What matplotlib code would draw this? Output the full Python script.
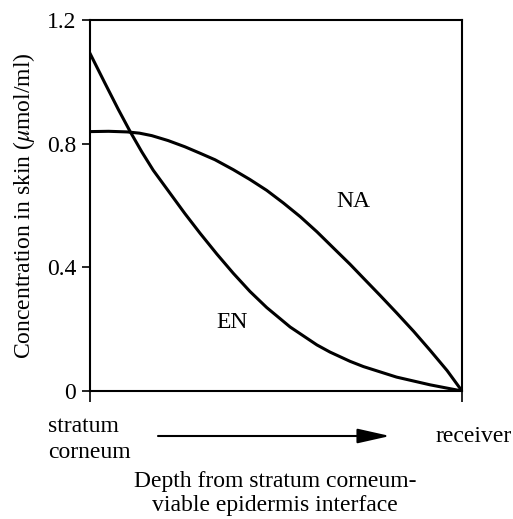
import matplotlib.pyplot as plt
from matplotlib.patches import FancyArrowPatch

plt.rcParams['font.family'] = ['Liberation Serif', 'DejaVu Serif']
plt.rcParams['mathtext.fontset'] = 'stix'

# depth fraction (0 = stratum corneum, 1 = receiver)
en_x = [0, 0.040, 0.076, 0.108, 0.139, 0.170, 0.255, 0.296, 0.341, 0.385, 0.430, 0.475,
        0.538, 0.610, 0.645, 0.699, 0.735, 0.824, 0.914, 1.0]
en_y = [1.092, 0.996, 0.911, 0.839, 0.774, 0.714, 0.574, 0.510, 0.443, 0.381, 0.322, 0.270,
        0.207, 0.149, 0.126, 0.096, 0.079, 0.045, 0.020, 0.0]

na_x = [0, 0.05, 0.10, 0.133, 0.166, 0.210, 0.255, 0.296, 0.336, 0.385, 0.430, 0.475, 0.520,
        0.565, 0.610, 0.654, 0.699, 0.735, 0.780, 0.824, 0.870, 0.914, 0.960, 1.0]
na_y = [0.839, 0.840, 0.838, 0.834, 0.826, 0.810, 0.790, 0.769, 0.748, 0.716, 0.684, 0.649,
        0.608, 0.564, 0.515, 0.463, 0.410, 0.365, 0.309, 0.253, 0.193, 0.132, 0.066, 0.0]

yticks = [0, 0.4, 0.8, 1.2]
ytick_labels = ['0', '0.4', '0.8', '1.2']

fig = plt.figure(figsize=(5.13, 5.19), dpi=100)
ax = fig.add_axes([90/513, 1 - 391/519, 372/513, 371/519])

ax.plot(en_x, en_y, color='black', lw=2.2, solid_joinstyle='round')
ax.plot(na_x, na_y, color='black', lw=2.2, solid_joinstyle='round')

ax.text(0.707, 0.612, 'NA', fontsize=17, ha='center', va='center')
ax.text(0.382, 0.220, 'EN', fontsize=17, ha='center', va='center')

ax.set_xlim(0, 1)
ax.set_ylim(0, 1.2)
ax.set_yticks(yticks)
ax.set_yticklabels(ytick_labels, fontsize=17)
ax.set_xticks([0, 1])
ax.set_xticklabels([])
ax.tick_params(axis='y', direction='out', length=6, width=1.2, pad=4)
ax.tick_params(axis='x', direction='out', length=8, width=1.2)
for s in ax.spines.values():
    s.set_linewidth(1.5)
ax.set_ylabel('Concentration in skin ($\\mu$mol/ml)', fontsize=17)
ax.yaxis.set_label_coords(-0.142, 0.5)

# bottom annotation
fig.text(48/513, 1 - 427/519, 'stratum', fontsize=17, ha='left', va='center')
fig.text(48/513, 1 - 452/519, 'corneum', fontsize=17, ha='left', va='center')
fig.text(435/513, 1 - 437/519, 'receiver', fontsize=17, ha='left', va='center')
fig.add_artist(FancyArrowPatch(
    (158/513, 1 - 436/519), (390/513, 1 - 436/519), transform=fig.transFigure,
    arrowstyle='-|>,head_length=8,head_width=1.8', mutation_scale=2.5, lw=1.5,
    color='black', shrinkA=0, shrinkB=0))
fig.text(275/513, 1 - 482/519, 'Depth from stratum corneum-', fontsize=17, ha='center', va='center')
fig.text(275/513, 1 - 506/519, 'viable epidermis interface', fontsize=17, ha='center', va='center')

fig.savefig('out.png', dpi=100)
